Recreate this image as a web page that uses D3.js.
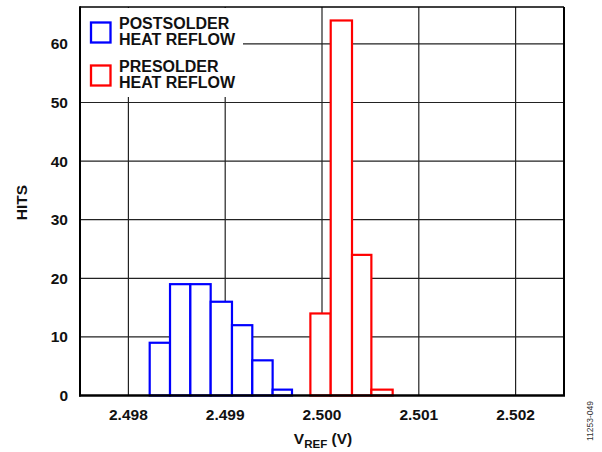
<!DOCTYPE html>
<html>
<head>
<meta charset="utf-8">
<script src="https://cdn.jsdelivr.net/npm/d3@7/dist/d3.min.js"></script>
<style>
  html, body { margin: 0; padding: 0; background: #fff; }
  svg { display: block; }
  text { font-family: "Liberation Sans", Arial, sans-serif; }
</style>
</head>
<body>
<script>
// ---- Data ----
const postEdges = [2.49822, 2.49843, 2.49864, 2.49885, 2.49907, 2.49928, 2.49949, 2.49969];
const postHits  = [9, 19, 19, 16, 12, 6, 1];
const preEdges  = [2.49988, 2.50009, 2.50031, 2.50051, 2.50073];
const preHits   = [14, 64, 24, 1];
const xTicks = [2.498, 2.499, 2.500, 2.501, 2.502];
const yTicks = [0, 10, 20, 30, 40, 50, 60];
const legendLabels = [["POSTSOLDER", "HEAT REFLOW"], ["PRESOLDER", "HEAT REFLOW"]];
const seriesColors = ["#0000ff", "#ff0000"];

const W = 602, H = 452;
const pL = 80, pR = 564, pT = 7, pB = 395.5;

const svg = d3.select("body").append("svg").attr("width", W).attr("height", H);

const x = d3.scaleLinear().domain([2.4975, 2.5025]).range([pL, pR]);
const y = d3.scaleLinear().domain([0, 66.3]).range([pB, pT]);

// gridlines
const grid = svg.append("g");
grid.selectAll("line.v").data(xTicks).enter().append("line")
  .attr("x1", d => x(d)).attr("x2", d => x(d))
  .attr("y1", pT).attr("y2", pB)
  .attr("stroke", "#222").attr("stroke-width", 1.2);
grid.selectAll("line.h").data(yTicks.filter(d => d > 0)).enter().append("line")
  .attr("x1", pL).attr("x2", pR)
  .attr("y1", d => y(d)).attr("y2", d => y(d))
  .attr("stroke", "#222").attr("stroke-width", 1.2);

// legend background
svg.append("rect").attr("x", pL + 1).attr("y", pT + 1)
  .attr("width", 162).attr("height", 89).attr("fill", "#fff");

// bars
function drawBars(edges, hits, color) {
  const data = hits.map((h, i) => ({x0: edges[i], x1: edges[i + 1], h}));
  svg.append("g").selectAll("rect").data(data).enter().append("rect")
    .attr("x", d => x(d.x0)).attr("width", d => x(d.x1) - x(d.x0))
    .attr("y", d => y(d.h)).attr("height", d => y(0) - y(d.h))
    .attr("fill", "#fff").attr("stroke", color).attr("stroke-width", 2.2);
}
drawBars(postEdges, postHits, seriesColors[0]);
drawBars(preEdges, preHits, seriesColors[1]);

// frame
svg.append("line").attr("x1", pL).attr("x2", pR).attr("y1", pT).attr("y2", pT)
  .attr("stroke", "#000").attr("stroke-width", 1.6);
svg.append("line").attr("x1", pR).attr("x2", pR).attr("y1", pT).attr("y2", pB)
  .attr("stroke", "#000").attr("stroke-width", 2);
svg.append("line").attr("x1", pL).attr("x2", pL).attr("y1", pT - 0.8).attr("y2", pB + 1)
  .attr("stroke", "#000").attr("stroke-width", 2);
svg.append("line").attr("x1", pL - 1).attr("x2", pR + 1).attr("y1", pB).attr("y2", pB)
  .attr("stroke", "#000").attr("stroke-width", 2.4);

// tick labels
svg.append("g").selectAll("text").data(yTicks).enter().append("text")
  .attr("x", 68).attr("y", d => y(d) + 5.5)
  .attr("text-anchor", "end").attr("font-weight", "bold").attr("font-size", "15.5px")
  .attr("fill", "#111").text(d => d);
svg.append("g").selectAll("text").data(xTicks).enter().append("text")
  .attr("x", d => x(d)).attr("y", 420)
  .attr("text-anchor", "middle").attr("font-weight", "bold").attr("font-size", "15.5px")
  .attr("fill", "#111").text(d => d3.format(".3f")(d));

// axis titles
svg.append("text").attr("transform", "translate(26.5,202.5) rotate(-90)")
  .attr("text-anchor", "middle").attr("font-weight", "bold").attr("font-size", "15.5px")
  .attr("fill", "#111").text("HITS");
const xt = svg.append("text").attr("x", (pL + pR) / 2 + 1).attr("y", 444)
  .attr("text-anchor", "middle").attr("font-weight", "bold").attr("font-size", "15.5px")
  .attr("fill", "#111");
xt.append("tspan").text("V");
xt.append("tspan").attr("font-size", "11.5px").attr("dy", 4).text("REF");
xt.append("tspan").attr("dy", -4).text(" (V)");

// legend
const lg = svg.append("g");
legendLabels.forEach((lines, i) => {
  const oy = i * 43;
  lg.append("rect").attr("x", 91).attr("y", 22.5 + oy).attr("width", 19.5).attr("height", 20)
    .attr("fill", "none").attr("stroke", seriesColors[i]).attr("stroke-width", 2.3);
  lines.forEach((t, j) => {
    lg.append("text").attr("x", 119).attr("y", 28.5 + oy + j * 16.6)
      .attr("font-weight", "bold").attr("font-size", "16px").attr("fill", "#111").text(t);
  });
});

// figure id
svg.append("text").attr("transform", "translate(593,421) rotate(-90)")
  .attr("text-anchor", "middle").attr("font-size", "8.5px").attr("fill", "#333")
  .text("11253-049");
</script>
</body>
</html>
